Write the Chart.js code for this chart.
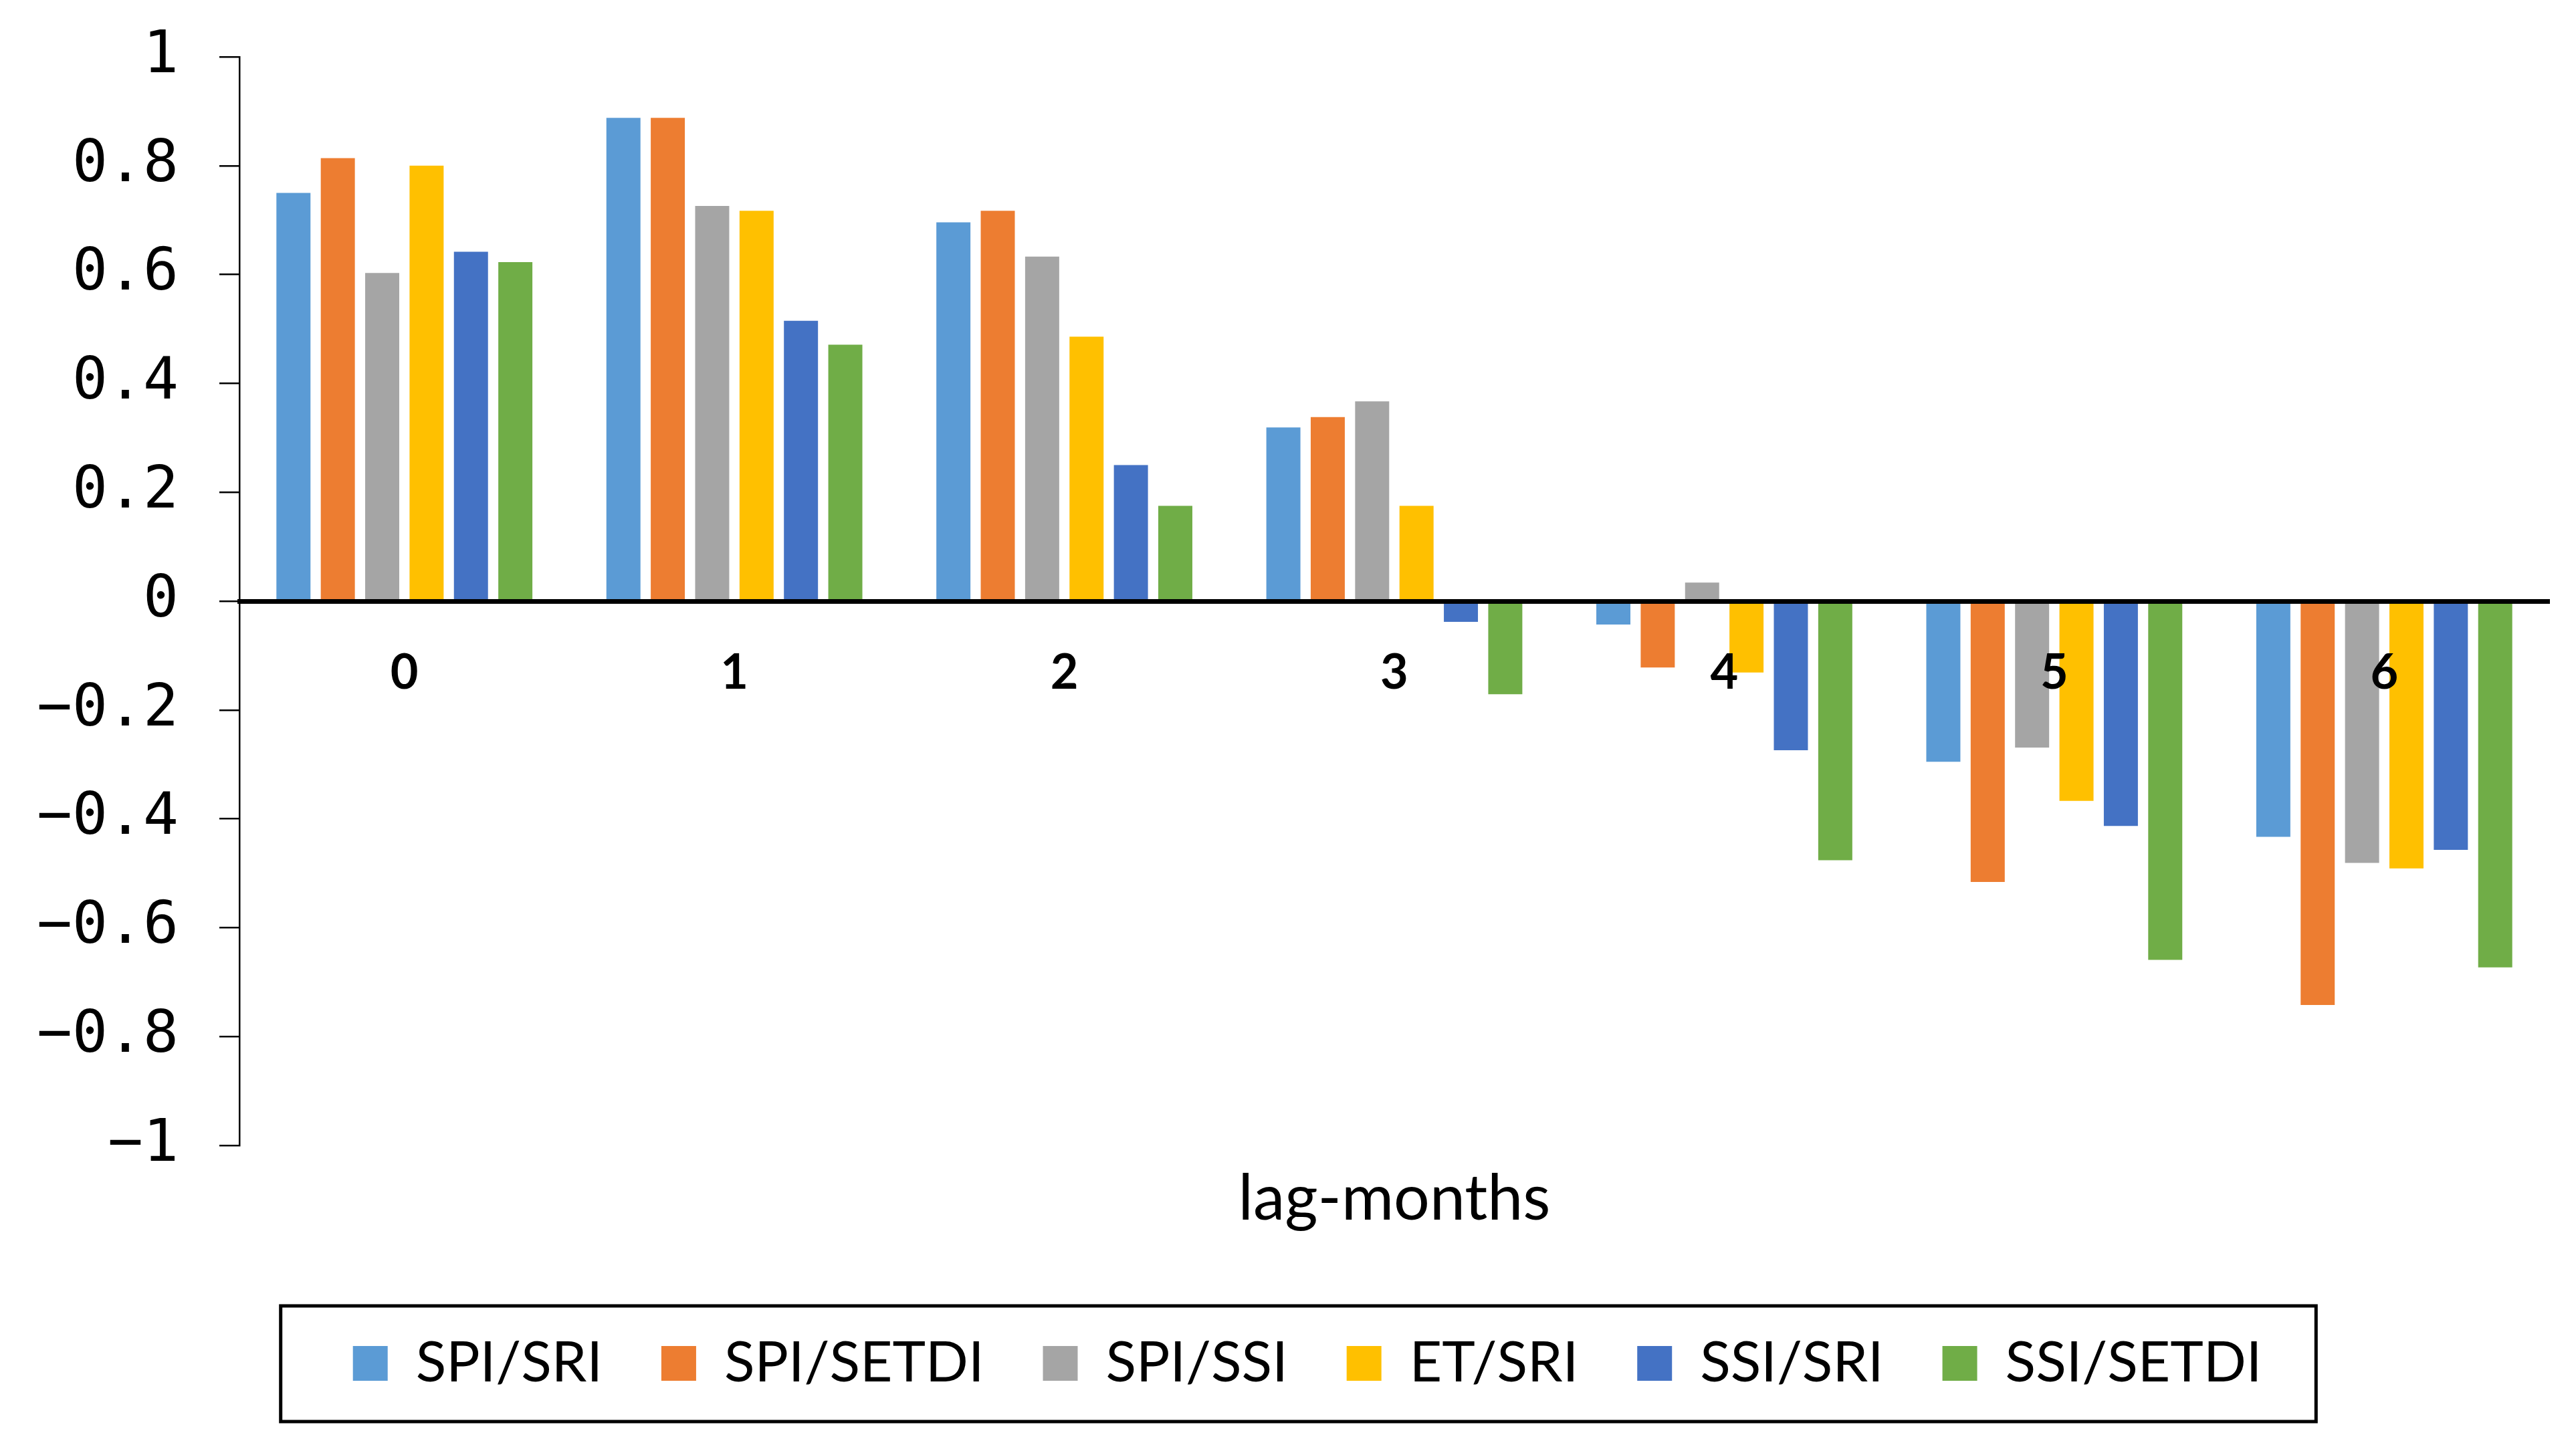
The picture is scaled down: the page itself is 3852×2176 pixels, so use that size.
<!DOCTYPE html>
<html>
<head>
<meta charset="utf-8">
<script src="https://cdn.jsdelivr.net/npm/chart.js"></script>
<style>
  body { margin: 0; background: #fff; }
  #wrap { width: 3852px; height: 2176px; }
</style>
</head>
<body>
<div id="wrap"><canvas id="lagChart" width="3852" height="2176"></canvas></div>
<script>
// lag in months
var lags = ["0", "1", "2", "3", "4", "5", "6"];

// correlation per pair of indices
var spiSri   = [0.75, 0.888, 0.696, 0.319, -0.043, -0.295, -0.433];
var spiSetdi = [0.814, 0.888, 0.717, 0.338, -0.122, -0.516, -0.742];
var spiSsi   = [0.603, 0.726, 0.633, 0.367, 0.034, -0.269, -0.481];
var etSri    = [0.80, 0.717, 0.486, 0.175, -0.131, -0.367, -0.491];
var ssiSri   = [0.642, 0.515, 0.25, -0.038, -0.274, -0.413, -0.457];
var ssiSetdi = [0.623, 0.471, 0.175, -0.171, -0.476, -0.659, -0.673];

var yTicks = [1, 0.8, 0.6, 0.4, 0.2, 0, -0.2, -0.4, -0.6, -0.8, -1];

// box round the legend, like the excel one
var legendBorder = {
    id: 'legendBorder',
    afterLayout: function(chart) {
        chart.legend.left = 98;
    },
    afterDraw: function(chart) {
        var lg = chart.legend;
        var pad = lg.options.labels.padding;
        var rowW = lg.lineWidths[0] - pad;
        var cx = (lg.left + lg.right) / 2;
        var cy = lg.top + pad + lg.options.labels.font.size / 2;
        var ctx = chart.ctx;
        ctx.save();
        ctx.strokeStyle = '#000';
        ctx.lineWidth = 5;
        ctx.strokeRect(cx - rowW / 2 - 108, cy - 86, rowW + 189, 173);
        ctx.restore();
    }
};

var myChart = new Chart(document.getElementById('lagChart'), {
    type: 'bar',
    data: {
        labels: lags,
        datasets: [
            { label: 'SPI/SRI', data: spiSri, backgroundColor: '#5B9BD5' },
            { label: 'SPI/SETDI', data: spiSetdi, backgroundColor: '#ED7D31' },
            { label: 'SPI/SSI', data: spiSsi, backgroundColor: '#A5A5A5' },
            { label: 'ET/SRI', data: etSri, backgroundColor: '#FFC000' },
            { label: 'SSI/SRI', data: ssiSri, backgroundColor: '#4472C4' },
            { label: 'SSI/SETDI', data: ssiSetdi, backgroundColor: '#70AD47' }
        ]
    },
    options: {
        responsive: false,
        devicePixelRatio: 1,
        animation: false,
        categoryPercentage: 0.807,
        barPercentage: 0.768,
        layout: {
            padding: { left: 0, right: 40, top: 85, bottom: 85 }
        },
        plugins: {
            tooltip: { enabled: false },
            legend: {
                position: 'bottom',
                labels: {
                    boxWidth: 52,
                    boxHeight: 52,
                    padding: 88,
                    color: '#000',
                    font: { family: 'Lato', size: 84 }
                }
            }
        },
        scales: {
            x: {
                position: { y: 0 },
                grid: { display: false, drawTicks: false },
                border: { display: true, color: '#000', width: 7, z: 1 },
                ticks: {
                    z: 1,
                    padding: 65,
                    color: '#000',
                    font: { family: 'Lato', size: 72, weight: 'bold', lineHeight: 1.2 }
                }
            },
            x2: {
                type: 'category',
                position: 'bottom',
                labels: lags,
                grid: { display: false },
                border: { display: false },
                ticks: { display: false },
                title: {
                    display: true,
                    text: 'lag-months',
                    color: '#000',
                    padding: { top: 0, bottom: 59 },
                    font: { family: 'Lato', size: 95, lineHeight: 1.2 }
                },
                afterFit: function(scale) {
                    scale.height = 196;
                }
            },
            y: {
                min: -1,
                max: 1,
                afterBuildTicks: function(scale) {
                    scale.ticks = yTicks.map(function(v) { return { value: v }; });
                },
                afterFit: function(scale) {
                    scale.width = 358;
                    // keep the top label from pushing the plot down
                    scale.paddingTop = 50;
                    scale.paddingBottom = 50;
                },
                grid: {
                    drawOnChartArea: false,
                    drawTicks: true,
                    tickLength: 30,
                    color: '#000',
                    lineWidth: 2.5
                },
                border: { display: true, color: '#000', width: 2.5 },
                ticks: {
                    padding: 61,
                    color: '#000',
                    font: { family: 'DejaVu Sans Mono', size: 88 },
                    callback: function(v) {
                        var r = Math.round(v * 10) / 10;
                        return (r < 0 ? '\u2212' : '') + Math.abs(r);
                    }
                }
            }
        }
    },
    plugins: [legendBorder]
});
</script>
</body>
</html>
